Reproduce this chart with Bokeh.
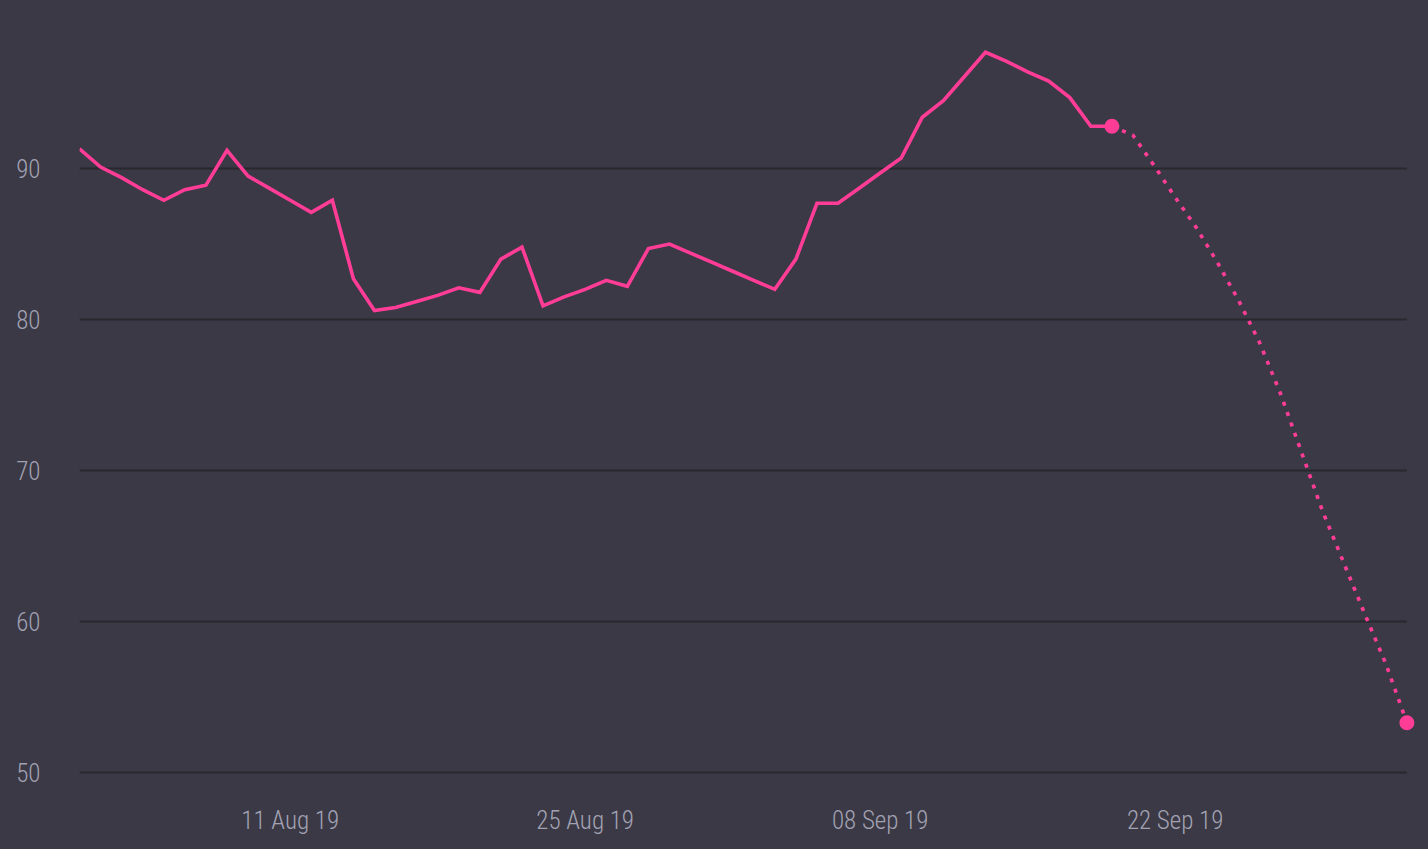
from datetime import datetime, timedelta
from bokeh.plotting import figure
from bokeh.models import FixedTicker, DatetimeTickFormatter, Range1d, InlineStyleSheet
from bokeh.embed import file_html
from bokeh.resources import INLINE

# ---- data ----
start_date = datetime(2019, 8, 1)
actual_values = [91.3, 90.1, 89.4, 88.6, 87.9, 88.6, 88.9, 91.2, 89.5, 88.7,
                 87.9, 87.1, 87.9, 82.7, 80.6, 80.8, 81.2, 81.6, 82.1, 81.8,
                 84.0, 84.8, 80.9, 81.5, 82.0, 82.6, 82.2, 84.7, 85.0, 84.4,
                 83.8, 83.2, 82.6, 82.0, 84.0, 87.7, 87.7, 88.7, 89.7, 90.7,
                 93.4, 94.5, 96.1, 97.7, 97.1, 96.4, 95.8, 94.7, 92.8, 92.8]
actual_dates = [start_date + timedelta(days=i) for i in range(len(actual_values))]

forecast_values = [92.8, 92.2, 90.2, 88.1, 86.1, 83.8, 81.3, 78.5, 75.1, 71.2,
                   67.3, 63.9, 60.5, 57.2, 53.3]
forecast_dates = [actual_dates[-1] + timedelta(days=i) for i in range(len(forecast_values))]

marker_dates = [actual_dates[-1], forecast_dates[-1]]
marker_values = [actual_values[-1], forecast_values[-1]]

y_ticks = [50, 60, 70, 80, 90]
x_tick_dates = [datetime(2019, 8, 11), datetime(2019, 8, 25),
                datetime(2019, 9, 8), datetime(2019, 9, 22)]

# ---- style ----
BG = "#3a3945"
GRID = "#29282f"
TEXT = "#a3a2b3"
PINK = "#ff3d96"
FONT = "Roboto Condensed Light, Roboto Condensed, Roboto"

x_end = start_date + timedelta(days=(1428 - 79) / 21.07)

p = figure(width=1428, height=849, x_axis_type="datetime",
           x_range=Range1d(start_date, x_end), y_range=Range1d(48.81, 101.13),
           output_backend="svg", toolbar_location=None,
           min_border_left=79, min_border_right=0, min_border_top=0,
           min_border_bottom=59)
p.stylesheets = [InlineStyleSheet(css=":host { background-color: %s; }" % BG)]
p.background_fill_color = BG
p.border_fill_color = BG
p.outline_line_color = None
p.xgrid.grid_line_color = None
p.ygrid.grid_line_color = None

# horizontal gridlines spanning data extent
p.segment(x0=[start_date] * len(y_ticks), x1=[forecast_dates[-1]] * len(y_ticks),
          y0=y_ticks, y1=y_ticks, line_color=GRID, line_width=2)

p.line(actual_dates, actual_values, line_color=PINK, line_width=3.6, line_join="miter")
p.line(forecast_dates, forecast_values, line_color=PINK, line_width=3.6,
       line_dash="4 7")
p.scatter(marker_dates, marker_values, size=15, fill_color=PINK, line_color=None)

p.yaxis.ticker = FixedTicker(ticks=y_ticks)
p.xaxis.ticker = FixedTicker(ticks=[d.timestamp() * 1000 for d in x_tick_dates])
fmt = "%d %b %y"
p.xaxis.formatter = DatetimeTickFormatter(days=fmt, months=fmt, years=fmt,
                                          hours=fmt, minutes=fmt, seconds=fmt)

for ax in (p.xaxis[0], p.yaxis[0]):
    ax.axis_line_color = None
    ax.major_tick_line_color = None
    ax.minor_tick_line_color = None
    ax.major_label_text_color = TEXT
    ax.major_label_text_font = FONT
    ax.major_label_text_font_size = "25px"

p.yaxis.major_label_standoff = 33
p.xaxis.major_label_standoff = 9

html = file_html(p, INLINE)
html = html.replace("</head>",
                    "<style>html,body{margin:0;background:%s;overflow:hidden;}</style></head>" % BG, 1)
open("out.html", "w").write(html)
